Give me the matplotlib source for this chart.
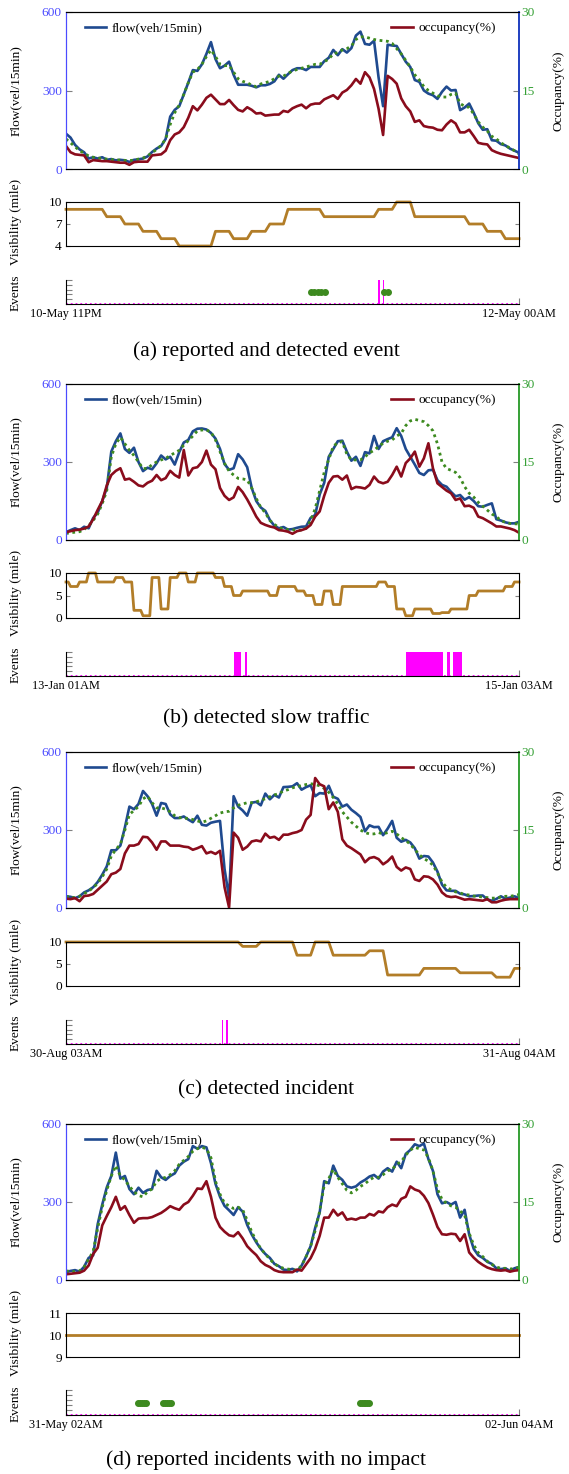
import matplotlib
matplotlib.use("Agg")
import matplotlib.pyplot as plt
import numpy as np

plt.rcParams['font.family'] = ['Liberation Serif', 'DejaVu Serif']

# (a) reported and detected event: 10-May 11PM -> 12-May 00AM (25 h)
flow_a = [135, 120, 92, 75, 64, 40, 45, 40, 45, 35,
          38, 33, 35, 33, 27, 35, 37, 40, 48, 65,
          78, 88, 115, 200, 226, 240, 285, 330, 378, 375,
          400, 440, 485, 420, 385, 395, 410, 360, 322, 322,
          322, 318, 312, 320, 320, 325, 335, 360, 345, 362,
          378, 385, 385, 378, 390, 390, 390, 412, 425, 455,
          435, 458, 445, 462, 510, 525, 478, 475, 490, 350,
          240, 475, 472, 470, 440, 410, 390, 340, 333, 300,
          288, 282, 268, 295, 315, 300, 302, 225, 235, 250,
          215, 175, 150, 152, 110, 108, 95, 90, 78, 70, 62]
pred_a = [115, 100, 85, 70, 60, 50, 45, 42, 40, 38,
          36, 35, 34, 33, 32, 34, 38, 42, 50, 62,
          75, 90, 115, 170, 215, 245, 285, 330, 370, 380,
          400, 430, 455, 430, 400, 395, 395, 370, 345, 335,
          330, 320, 315, 325, 330, 335, 345, 355, 355, 365,
          375, 380, 385, 390, 395, 400, 400, 410, 420, 440,
          445, 455, 460, 470, 495, 505, 505, 500, 495, 492,
          490, 488, 480, 460, 440, 415, 390, 360, 340, 315,
          300, 290, 280, 275, 275, 285, 290, 250, 240, 235,
          210, 180, 160, 145, 125, 115, 100, 90, 80, 70, 58]
occ_a = [4.4, 3.2, 2.8, 2.7, 2.6, 1.3, 1.7, 1.6, 1.5, 1.5,
         1.4, 1.3, 1.2, 1.2, 0.8, 1.3, 1.4, 1.4, 1.4, 2.6,
         2.7, 2.8, 3.5, 5.5, 6.6, 7.0, 8.0, 9.8, 12.0, 11.2,
         12.3, 13.6, 14.2, 13.3, 12.4, 12.4, 13.2, 12.2, 11.3, 11.0,
         11.8, 11.3, 10.6, 10.7, 10.2, 10.3, 10.4, 10.4, 11.1, 10.9,
         11.6, 12.0, 12.3, 11.6, 12.3, 12.5, 12.5, 13.3, 13.7, 14.1,
         13.4, 14.6, 15.1, 16.0, 17.2, 16.3, 18.5, 17.5, 15.3, 11.5,
         6.5, 17.8, 17.2, 16.3, 13.5, 12.0, 11.0, 9.0, 9.3, 8.2,
         8.0, 7.9, 7.5, 7.4, 8.5, 9.3, 8.7, 7.0, 7.0, 7.5,
         6.3, 5.0, 4.8, 4.7, 3.6, 3.2, 2.9, 2.7, 2.5, 2.3, 2.1]
vis_a_hourly = [9, 9, 9, 8, 7, 6, 5, 4, 4, 6, 5, 6, 7, 9, 9, 8, 8, 8, 9, 10, 8, 8, 8, 7, 6, 5]
det_a_start = [17.22, 17.47]
det_a_width = [0.1, 0.1]
rep_a = [13.5, 13.7, 13.9, 14.1, 14.3, 17.55, 17.75]

# (b) detected slow traffic: 13-Jan 01AM -> 15-Jan 03AM (50 h)
flow_b = [30, 38, 45, 38, 51, 45, 85, 105, 150, 200,
          340, 380, 410, 350, 335, 355, 300, 265, 278, 272,
          295, 325, 310, 320, 290, 338, 375, 385, 418, 428,
          429, 425, 412, 390, 350, 292, 270, 276, 330, 310,
          280, 200, 150, 125, 112, 77, 55, 45, 50, 40,
          42, 47, 51, 52, 85, 96, 175, 220, 320, 350,
          380, 382, 340, 305, 320, 285, 338, 333, 400, 350,
          380, 388, 395, 430, 400, 350, 320, 290, 258, 250,
          268, 270, 230, 212, 205, 185, 168, 173, 155, 165,
          150, 130, 128, 135, 141, 80, 75, 68, 64, 64, 70]
pred_b = [25, 28, 30, 32, 40, 55, 75, 100, 140, 190,
          320, 370, 395, 370, 345, 325, 300, 275, 275, 290,
          300, 308, 314, 325, 335, 345, 365, 382, 400, 420,
          423, 423, 415, 385, 340, 295, 265, 250, 237, 235,
          231, 200, 160, 125, 105, 75, 60, 48, 42, 40,
          39, 38, 38, 45, 75, 120, 190, 260, 310, 360,
          375, 378, 330, 308, 308, 308, 320, 335, 345, 360,
          372, 380, 385, 400, 410, 440, 458, 464, 460, 455,
          440, 420, 370, 300, 275, 268, 260, 240, 205, 180,
          165, 145, 130, 115, 100, 90, 75, 68, 64, 62, 62]
occ_b = [1.5, 1.7, 1.9, 2.0, 2.2, 2.6, 4.0, 5.8, 7.5, 10.5,
         12.5, 13.3, 13.8, 11.6, 11.8, 11.2, 10.5, 10.3, 11.0, 11.4,
         12.5, 11.5, 11.9, 13.3, 12.5, 12.0, 17.3, 12.4, 13.8, 14.0,
         15.0, 17.2, 14.5, 13.6, 10.0, 8.5, 7.7, 8.2, 10.2, 9.2,
         7.8, 6.2, 4.5, 3.3, 2.9, 2.6, 2.4, 1.9, 1.8, 1.6,
         1.2, 1.7, 1.9, 2.2, 2.9, 4.5, 5.5, 8.5, 11.0, 12.2,
         12.3, 11.6, 12.4, 9.8, 10.2, 10.1, 9.9, 10.6, 12.2, 11.2,
         10.9, 11.2, 12.5, 14.1, 12.2, 14.8, 15.7, 17.0, 14.1, 15.7,
         18.6, 13.8, 10.9, 10.2, 9.5, 9.0, 7.7, 8.0, 6.5, 6.6,
         6.2, 4.5, 4.2, 3.7, 3.2, 2.6, 2.6, 2.4, 2.2, 1.9, 1.4]
vis_b_hourly = [8, 7, 8, 10, 8, 8, 9, 8, 1.7, 0.5, 9, 2, 9, 10, 8, 10, 10, 9, 7, 5,
                6, 6, 6, 5, 7, 7, 6, 5, 3, 6, 3, 7, 7, 7, 7, 8, 7, 2, 0.5, 2,
                2, 1, 1.2, 2, 2, 5, 6, 6, 6, 7, 8]
det_b_start = [18.5, 19.8, 37.5, 42.0, 42.7]
det_b_width = [0.8, 0.2, 4.1, 0.4, 1.0]
rep_b = []

# (c) detected incident: 30-Aug 03AM -> 31-Aug 04AM (25 h)
flow_c = [45, 43, 38, 45, 60, 68, 80, 100, 128, 160,
          222, 222, 240, 310, 390, 380, 400, 450, 430, 400,
          355, 404, 400, 360, 346, 346, 352, 340, 330, 355,
          320, 317, 328, 332, 335, 150, 40, 430, 390, 375,
          355, 405, 408, 395, 440, 418, 435, 425, 465, 466,
          468, 480, 455, 465, 472, 430, 442, 440, 470, 428,
          420, 390, 398, 378, 365, 350, 295, 318, 311, 312,
          280, 305, 335, 270, 255, 262, 252, 230, 190, 200,
          198, 175, 140, 90, 68, 66, 66, 55, 52, 45,
          46, 48, 48, 33, 28, 35, 45, 36, 40, 45, 38]
pred_c = [45, 42, 40, 45, 55, 65, 78, 95, 120, 150,
          200, 225, 245, 300, 360, 375, 390, 420, 430, 405,
          385, 385, 380, 370, 355, 348, 345, 345, 340, 335,
          330, 335, 345, 355, 365, 370, 372, 385, 395, 400,
          405, 405, 408, 415, 420, 428, 435, 440, 450, 455,
          462, 468, 470, 475, 478, 475, 470, 460, 445, 425,
          400, 370, 350, 330, 315, 300, 290, 285, 285, 290,
          285, 290, 295, 285, 270, 260, 245, 225, 205, 190,
          180, 165, 135, 100, 80, 70, 62, 58, 52, 50,
          46, 44, 42, 40, 38, 38, 42, 45, 45, 48, 52]
occ_c = [1.8, 1.7, 1.9, 1.3, 2.3, 2.4, 2.7, 3.5, 4.3, 5.1,
         6.5, 6.8, 7.5, 10.5, 12.0, 12.0, 12.3, 13.7, 13.6, 12.6,
         11.2, 12.8, 12.8, 12.0, 12.0, 12.0, 11.8, 11.7, 11.2, 11.5,
         11.9, 10.5, 10.8, 10.4, 11.0, 4.0, 0.1, 14.5, 13.5, 11.2,
         11.8, 12.8, 13.0, 12.8, 14.3, 13.5, 13.7, 13.1, 14.1, 14.1,
         14.4, 14.6, 15.0, 17.0, 17.9, 25.0, 23.8, 23.4, 19.0, 20.3,
         18.5, 13.2, 12.0, 11.5, 10.9, 10.3, 8.8, 9.6, 9.8, 9.4,
         8.4, 9.0, 9.9, 7.9, 7.2, 7.8, 7.5, 5.5, 5.2, 6.1,
         6.0, 5.5, 4.5, 3.0, 2.3, 2.1, 2.2, 1.9, 1.6, 1.7,
         1.6, 1.5, 1.4, 1.7, 1.1, 1.1, 1.4, 1.6, 1.7, 1.7, 1.7]
vis_c_hourly = [10, 10, 10, 10, 10, 10, 10, 10, 10, 10, 9, 10, 10, 7, 10, 7, 7, 8,
                2.5, 2.5, 4, 4, 3, 3, 2, 4]
det_c_start = [8.59, 8.84]
det_c_width = [0.1, 0.1]
rep_c = []

# (d) reported incidents with no impact: 31-May 02AM -> 02-Jun 04AM (50 h)
flow_d = [30, 35, 38, 32, 51, 85, 95, 215, 290, 356,
          400, 490, 390, 400, 350, 330, 355, 335, 346, 350,
          420, 395, 385, 400, 410, 440, 455, 465, 515, 505,
          515, 510, 450, 370, 320, 285, 268, 250, 280, 263,
          212, 175, 145, 120, 100, 85, 62, 53, 40, 38,
          43, 33, 55, 90, 130, 200, 260, 380, 372, 440,
          400, 385, 360, 355, 360, 375, 385, 398, 404, 390,
          417, 430, 417, 455, 430, 485, 500, 522, 515, 525,
          465, 420, 330, 295, 300, 290, 300, 240, 270, 175,
          120, 95, 85, 70, 62, 45, 42, 45, 35, 45, 50]
pred_d = [35, 33, 32, 35, 50, 80, 110, 200, 280, 345,
          400, 440, 400, 385, 360, 340, 325, 320, 340, 350,
          380, 390, 395, 405, 420, 445, 460, 475, 495, 505,
          510, 505, 470, 380, 330, 295, 285, 275, 280, 270,
          230, 185, 150, 120, 100, 80, 62, 52, 45, 42,
          40, 38, 55, 90, 130, 190, 265, 365, 390, 425,
          395, 370, 345, 335, 345, 360, 370, 385, 395, 395,
          405, 420, 425, 445, 455, 480, 500, 510, 505, 500,
          470, 420, 350, 310, 295, 285, 280, 265, 250, 180,
          135, 105, 90, 72, 60, 50, 45, 45, 42, 45, 48]
occ_d = [1.1, 1.2, 1.3, 1.4, 1.8, 2.8, 5.0, 6.2, 10.5, 12.3,
         14.0, 16.0, 13.5, 14.2, 12.5, 11.0, 11.8, 11.9, 11.9, 12.1,
         12.5, 12.9, 13.5, 14.2, 13.8, 13.5, 14.5, 15.0, 16.2, 17.6,
         17.5, 19.0, 16.0, 12.0, 10.2, 9.3, 8.6, 8.4, 9.2, 8.0,
         6.5, 5.6, 4.8, 3.6, 2.9, 2.5, 1.9, 1.6, 1.5, 1.5,
         1.5, 2.0, 1.8, 3.0, 4.2, 6.0, 8.5, 12.0, 12.0, 13.5,
         12.4, 13.0, 11.6, 11.8, 11.6, 12.0, 12.0, 12.7, 12.4, 13.2,
         13.0, 14.0, 14.5, 14.2, 15.6, 16.0, 18.0, 17.4, 17.1, 16.2,
         14.8, 12.6, 10.2, 8.8, 8.7, 8.9, 8.8, 7.5, 8.8, 5.3,
         4.3, 3.5, 2.9, 2.4, 2.1, 1.9, 1.8, 1.9, 1.6, 1.8, 1.9]
vis_d_hourly = [10] * 51
det_d_start = []
det_d_width = []
rep_d = [8.0, 8.2, 8.4, 8.6, 8.8, 10.75, 10.95, 11.15, 11.35, 11.55,
         32.45, 32.65, 32.85, 33.05, 33.25, 33.45]

BLUE = '#1f4a8f'
RED = '#8a0c1c'
GREEN = '#3d8a1f'
VIS = '#b27d28'
MAG = '#ff00ff'
LEFTC = '#4b4bff'
RIGHTC = '#35a035'
FS = 9.6
XFS = 8.8

W, H = 569, 1474
fig = plt.figure(figsize=(W / 100, H / 100), dpi=100)


def box(top, bottom):
    return [66 / W, 1 - bottom / H, 453 / W, (bottom - top) / H]


def panel(rows, hours, flow, pred, occ, vis, vis_lim, vis_ticks,
          det_start, det_width, rep, xlabels, caption, cap_y, rspine):
    # traffic: flow + predicted flow on left, occupancy on right
    ax = fig.add_axes(box(*rows[0]))
    t = np.linspace(0, hours, len(flow))
    ax.plot(t, flow, color=BLUE, lw=1.9, label='flow(veh/15min)')
    ax.plot(t, pred, color=GREEN, lw=2.0, ls=(0, (1.0, 1.3)))
    ax.set_xlim(0, hours)
    ax.set_ylim(0, 600)
    ax.set_yticks([0, 300, 600])
    ax.set_xticks([])
    ax.tick_params(axis='y', direction='in', length=4, color='0.5',
                   labelcolor=LEFTC, labelsize=FS, pad=3)
    ax.set_ylabel('Flow(vel/15min)', fontsize=FS)
    ax.yaxis.set_label_coords(-0.097, 0.5)
    ax.legend(loc='upper left', bbox_to_anchor=(0.03, 0.97), frameon=False,
              handlelength=1.6, handletextpad=0.4, borderaxespad=0, fontsize=FS)

    ax2 = ax.twinx()
    ax2.plot(t, occ, color=RED, lw=1.9, label='occupancy(%)')
    ax2.set_ylim(0, 30)
    ax2.set_yticks([0, 15, 30])
    ax2.tick_params(axis='y', direction='in', length=4, color='0.5',
                    labelcolor=RIGHTC, labelsize=FS, pad=2)
    ax2.set_ylabel('Occupancy(%)', fontsize=FS)
    ax2.yaxis.set_label_coords(1.075, 0.5)
    ax2.legend(loc='upper right', bbox_to_anchor=(0.96, 0.97), frameon=False,
               handlelength=1.6, handletextpad=0.4, borderaxespad=0, fontsize=FS)
    for a in (ax, ax2):
        a.spines['left'].set_color(LEFTC)
        a.spines['right'].set_color(rspine)
        a.spines['right'].set_linewidth(1.2)

    # visibility
    av = fig.add_axes(box(*rows[1]))
    tv = np.linspace(0, hours, len(vis))
    av.plot(tv, vis, color=VIS, lw=2.0, clip_on=False)
    av.set_xlim(0, hours)
    av.set_ylim(*vis_lim)
    av.set_yticks(vis_ticks)
    av.set_xticks([])
    av.tick_params(axis='y', direction='in', right=True, length=3, color='0.5',
                   labelsize=FS, pad=3)
    av.set_ylabel('Visibility (mile)', fontsize=FS)
    av.yaxis.set_label_coords(-0.097, 0.55)

    # events: detected (magenta) and reported (green)
    ae = fig.add_axes(box(*rows[2]))
    ae.bar(det_start, [1] * len(det_start), width=det_width, align='edge',
           color=MAG, lw=0)
    ae.plot(rep, [0.5] * len(rep), 'o', color=GREEN, ms=4, ls='none')
    ae.axhline(0, color=MAG, ls=':', lw=1.3)
    ae.set_xlim(0, hours)
    ae.set_ylim(0, 1)
    ae.set_yticks(np.linspace(0, 1, 6))
    ae.set_yticklabels([])
    ae.set_xticks([0, hours])
    ae.set_xticklabels(xlabels)
    ae.spines[['top', 'right']].set_visible(False)
    ae.tick_params(direction='in', length=4, color='0.5', labelsize=XFS, pad=3)
    ae.set_ylabel('Events', fontsize=FS)
    ae.yaxis.set_label_coords(-0.097, 0.45)

    fig.text(266 / W, 1 - cap_y / H, caption, ha='center', va='center', fontsize=15.5)


panel([(12, 169), (202, 246), (280, 304)], 25, flow_a, pred_a, occ_a,
      np.repeat(vis_a_hourly, 4)[3:104], (4, 10), [4, 7, 10],
      det_a_start, det_a_width, rep_a, ['10-May 11PM', '12-May 00AM'],
      '(a) reported and detected event', 351, '#1f3fc0')
panel([(384, 540), (573, 618), (652, 676)], 50, flow_b, pred_b, occ_b,
      np.repeat(vis_b_hourly, 4)[2:203], (0, 10), [0, 5, 10],
      det_b_start, det_b_width, rep_b, ['13-Jan 01AM', '15-Jan 03AM'],
      '(b) detected slow traffic', 719, RIGHTC)
panel([(752, 908), (942, 986), (1020, 1044)], 25, flow_c, pred_c, occ_c,
      np.repeat(vis_c_hourly, 4)[1:102], (0, 10), [0, 5, 10],
      det_c_start, det_c_width, rep_c, ['30-Aug 03AM', '31-Aug 04AM'],
      '(c) detected incident', 1090, RIGHTC)
panel([(1124, 1280), (1313, 1357), (1390, 1415)], 50, flow_d, pred_d, occ_d,
      np.repeat(vis_d_hourly, 4)[2:203], (9, 11), [9, 10, 11],
      det_d_start, det_d_width, rep_d, ['31-May 02AM', '02-Jun 04AM'],
      '(d) reported incidents with no impact', 1460, RIGHTC)

fig.savefig('out.png', dpi=100)
